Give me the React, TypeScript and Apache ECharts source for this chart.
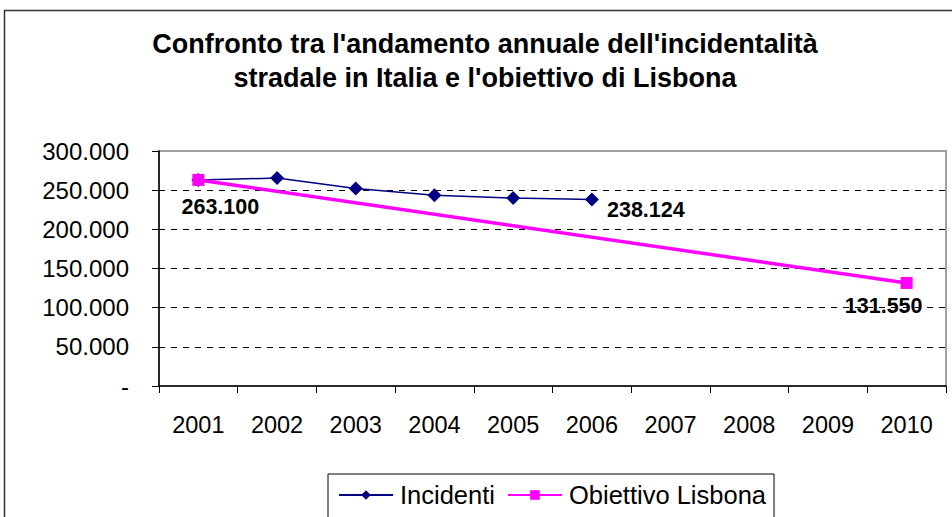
import React, { useEffect, useRef } from "react";
import * as echarts from "echarts";

const years = ["2001", "2002", "2003", "2004", "2005", "2006", "2007", "2008", "2009", "2010"];
const incidenti: (number | null)[] = [263100, 265402, 252271, 243490, 240011, 238124, null, null, null, null];
const lisbona: (number | null)[] = [263100, null, null, null, null, null, null, null, null, 131550];
const yTicks = { min: 0, max: 300000, interval: 50000 };
const titleText = "Confronto tra l'andamento annuale dell'incidentalità\nstradale in Italia e l'obiettivo di Lisbona";

const FONT = "'Liberation Sans', Arial, sans-serif";

function fmt(v: number): string {
  if (v === 0) return "-";
  return String(Math.round(v)).replace(/\B(?=(\d{3})+(?!\d))/g, ".");
}

const labelStyle = {
  show: true,
  position: "inside" as const,
  fontFamily: FONT,
  fontSize: 21.5,
  fontWeight: "bold" as const,
  color: "#000",
  formatter: (p: any) => fmt(p.value),
};

export default function App() {
  const ref = useRef<HTMLDivElement>(null);
  useEffect(() => {
    if (!ref.current) return;
    const chart = echarts.init(ref.current, undefined, { renderer: "svg" });
    const incData = incidenti.map((v, i) => {
      if (i === 0) return { value: v, label: { ...labelStyle, offset: [22, 27] } };
      if (i === 5) return { value: v, label: { ...labelStyle, offset: [54, 11] } };
      return v;
    });
    const lisData = lisbona.map((v, i) => {
      if (i === lisbona.length - 1) return { value: v, label: { ...labelStyle, offset: [-23, 23] } };
      return v;
    });
    chart.setOption({
      animation: false,
      backgroundColor: "#fff",
      title: {
        text: titleText,
        left: 480,
        top: 22,
        textAlign: "center",
        textStyle: {
          fontFamily: FONT,
          fontSize: 27,
          fontWeight: "bold",
          color: "#000",
          lineHeight: 34,
        },
      },
      graphic: [
        {
          type: "rect",
          shape: { x: 4.5, y: 10.5, width: 1000, height: 600 },
          style: { fill: "none", stroke: "#333", lineWidth: 1.5 },
          silent: true,
        },
      ],
      grid: {
        left: 159,
        top: 151,
        right: 6,
        bottom: 131,
        show: true,
        borderColor: "#a0a0a0",
        borderWidth: 2,
        containLabel: false,
      },
      legend: {
        left: 328,
        top: 474,
        padding: [8, 8, 12, 10],
        borderColor: "#000",
        borderWidth: 1,
        itemWidth: 54,
        itemHeight: 12,
        itemGap: 12,
        textStyle: { fontFamily: FONT, fontSize: 25.5, color: "#000", padding: [0, 0, 0, 2] },
        data: ["Incidenti", "Obiettivo Lisbona"],
      },
      xAxis: {
        type: "category",
        data: years,
        boundaryGap: true,
        axisLine: { lineStyle: { color: "#000", width: 1.5 } },
        axisTick: { show: true, length: 7, lineStyle: { color: "#000" } },
        axisLabel: { fontFamily: FONT, fontSize: 23.5, color: "#000", margin: 27 },
        splitLine: { show: false },
      },
      yAxis: {
        type: "value",
        min: yTicks.min,
        max: yTicks.max,
        interval: yTicks.interval,
        axisLine: { show: true, lineStyle: { color: "#000", width: 1.5 } },
        axisTick: { show: true, length: 7, lineStyle: { color: "#000" } },
        axisLabel: {
          fontFamily: FONT,
          fontSize: 24,
          color: "#000",
          margin: 30,
          formatter: (v: number) => fmt(v),
        },
        splitLine: {
          show: true,
          showMinLine: false,
          showMaxLine: false,
          lineStyle: { color: "#000", type: [6, 6], width: 1 },
        },
      },
      series: [
        {
          name: "Incidenti",
          type: "line",
          data: incData,
          symbol: "diamond",
          symbolSize: 14,
          itemStyle: { color: "#000080" },
          lineStyle: { color: "#000080", width: 1.5 },
          label: { show: false },
          z: 2,
        },
        {
          name: "Obiettivo Lisbona",
          type: "line",
          data: lisData,
          connectNulls: true,
          symbol: "rect",
          symbolSize: 12,
          itemStyle: { color: "#FF00FF" },
          lineStyle: { color: "#FF00FF", width: 3.5 },
          label: { show: false },
          z: 3,
        },
      ],
    });
    return () => chart.dispose();
  }, []);
  return (
    <div
      ref={ref}
      style={{ position: "fixed", left: 0, top: 0, width: 952, height: 517, background: "#fff" }}
    />
  );
}
